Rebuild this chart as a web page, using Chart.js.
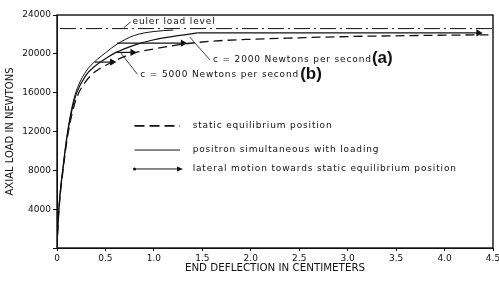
<!DOCTYPE html>
<html>
<head>
<meta charset="utf-8">
<script src="https://cdn.jsdelivr.net/npm/chart.js@4.4.1/dist/chart.umd.min.js"></script>
<style>
  body { margin: 0; background: #fff; }
  canvas { display: block; }
</style>
</head>
<body>
<canvas id="chart" width="499" height="282"></canvas>
<script>
// tick labels
const xTickLabels = ['0', '0.5', '1.0', '1.5', '2.0', '2.5', '3.0', '3.5', '4.0', '4.5'];
const yTickLabels = ['', '4000', '8000', '12000', '16000', '20000', '24000'];

// position simultaneous with loading, outer curve
const loadA_x = [0, 0.01, 0.03, 0.06, 0.1, 0.15, 0.2, 0.3, 0.39, 0.5, 0.62, 0.8, 1.0, 1.2];
const loadA_y = [0, 2500, 5500, 8200, 11400, 14300, 16200, 18200, 19200, 20100, 21000, 21900, 22300, 22450];

// position simultaneous with loading, inner curve
const loadB_x = [0, 0.01, 0.03, 0.06, 0.1, 0.15, 0.2, 0.3, 0.4, 0.5, 0.6, 0.8, 1.0, 1.2, 1.45];
const loadB_y = [0, 2400, 5300, 8000, 11200, 14000, 15900, 17800, 18800, 19500, 20100, 20900, 21450, 21800, 22150];

// static equilibrium position
const static_x = [0, 0.01, 0.03, 0.06, 0.1, 0.15, 0.2, 0.3, 0.4, 0.5, 0.6, 0.8, 1.0, 1.3, 1.6, 2.0, 2.5, 3.0, 3.5, 4.0, 4.5];
const static_y = [0, 2300, 5100, 7800, 10900, 13600, 15400, 17200, 18200, 18800, 19300, 20100, 20500, 21000, 21300, 21500, 21650, 21780, 21860, 21920, 21960];

// lateral motion towards static equilibrium
const lateralLoad = [19150, 20150, 21100, 22150];
const lateralFrom = [0.39, 0.6, 0.62, 1.45];
const lateralTo = [0.57, 0.78, 1.3, 4.35];

const eulerLoad = 22600;

const pts = (xs, ys) => xs.map((x, i) => ({ x, y: ys[i] }));

const datasets = [
  {
    data: [{ x: 0.03, y: eulerLoad }, { x: 4.5, y: eulerLoad }],
    borderColor: '#111', borderWidth: 1, borderDash: [16, 4, 2, 4], pointRadius: 0,
  },
  {
    data: pts(static_x, static_y),
    borderColor: '#111', borderWidth: 1.3, borderDash: [9, 5], pointRadius: 0,
    cubicInterpolationMode: 'monotone',
  },
  {
    data: pts(loadA_x, loadA_y),
    borderColor: '#111', borderWidth: 1, pointRadius: 0, cubicInterpolationMode: 'monotone',
  },
  {
    data: pts(loadB_x, loadB_y),
    borderColor: '#111', borderWidth: 1.2, pointRadius: 0, cubicInterpolationMode: 'monotone',
  },
  ...lateralLoad.map((y, i) => ({
    data: [{ x: lateralFrom[i], y }, { x: lateralTo[i], y }],
    borderColor: '#111', backgroundColor: '#111', borderWidth: 1.2,
    pointStyle: 'triangle', pointRotation: 90,
    pointRadius: c => c.dataIndex === 1 ? 3 : 0,
  })),
];

// annotation text and legend, placed in data units
const FONT = '9px "DejaVu Sans"';
const notes = [
  { text: 'euler load level', x: 0.78, y: 23280 },
  { text: 'c = 2000 Newtons per second', x: 1.61, y: 19360 },
  { text: 'c = 5000 Newtons per second', x: 0.86, y: 17900 },
  { text: 'static equilibrium position', x: 1.40, y: 12570 },
  { text: 'positron simultaneous with loading', x: 1.40, y: 10090 },
  { text: 'lateral motion towards static equilibrium position', x: 1.40, y: 8140 },
];
const bigNotes = [
  { text: '(a)', x: 3.25, y: 19570 },
  { text: '(b)', x: 2.51, y: 17900 },
];
const leaders = [
  [[0.76, 23280], [0.69, 22700]],
  [[1.58, 19360], [1.37, 21730]],
  [[0.83, 17900], [0.65, 20200]],
];

const decor = {
  id: 'decor',
  afterDraw(chart) {
    const { ctx, chartArea: a, scales: { x, y } } = chart;
    const px = v => x.getPixelForValue(v);
    const py = v => y.getPixelForValue(v);
    ctx.save();
    ctx.strokeStyle = '#111';
    ctx.fillStyle = '#111';
    ctx.lineWidth = 1.4;
    ctx.strokeRect(a.left, a.top, a.right - a.left, a.bottom - a.top);

    ctx.lineWidth = 0.8;
    leaders.forEach(([p, q]) => {
      ctx.beginPath();
      ctx.moveTo(px(p[0]), py(p[1]));
      ctx.lineTo(px(q[0]), py(q[1]));
      ctx.stroke();
    });

    ctx.font = FONT;
    ctx.textBaseline = 'middle';
    ctx.letterSpacing = '0.85px';
    notes.forEach(n => ctx.fillText(n.text, px(n.x), py(n.y)));
    ctx.letterSpacing = '0px';
    ctx.font = 'bold 17px "Liberation Sans"';
    bigNotes.forEach(n => ctx.fillText(n.text, px(n.x), py(n.y)));

    // legend samples
    const x0 = px(0.80), x1 = px(1.27);
    ctx.lineWidth = 1.8;
    ctx.setLineDash([10, 5]);
    ctx.beginPath(); ctx.moveTo(x0, py(12570)); ctx.lineTo(x1, py(12570)); ctx.stroke();
    ctx.setLineDash([]);
    ctx.lineWidth = 1;
    ctx.beginPath(); ctx.moveTo(x0, py(10090)); ctx.lineTo(x1, py(10090)); ctx.stroke();
    const ly = py(8140);
    ctx.beginPath(); ctx.moveTo(x0, ly); ctx.lineTo(x1, ly); ctx.stroke();
    ctx.beginPath(); ctx.arc(x0, ly, 1.5, 0, Math.PI * 2); ctx.fill();
    ctx.beginPath(); ctx.moveTo(x1 + 3, ly); ctx.lineTo(x1 - 3, ly - 2.5); ctx.lineTo(x1 - 3, ly + 2.5); ctx.fill();
    ctx.restore();
  },
};

new Chart(document.getElementById('chart'), {
  type: 'line',
  data: { datasets },
  plugins: [decor],
  options: {
    responsive: false,
    animation: false,
    devicePixelRatio: 1,
    layout: { padding: { top: 15, right: 6, left: 0, bottom: 0 } },
    plugins: { legend: { display: false }, tooltip: { enabled: false } },
    scales: {
      x: {
        type: 'linear', min: 0, max: 4.5,
        afterFit: s => { s.height = 34; s.paddingRight = 0; s.paddingLeft = 0; },
        ticks: {
          stepSize: 0.5, padding: 2, color: '#111', maxRotation: 0,
          font: { family: 'DejaVu Sans', size: 9 },
          callback: (v, i) => xTickLabels[i],
        },
        grid: { drawOnChartArea: false, tickLength: 3, color: '#111' },
        border: { color: '#111', width: 1 },
        title: {
          display: true, text: 'END DEFLECTION IN CENTIMETERS', color: '#111',
          font: { family: 'DejaVu Sans', size: 10.3 }, padding: { top: 0, bottom: 7 },
        },
      },
      y: {
        type: 'linear', min: 0, max: 24000,
        afterFit: s => { s.width = 57; },
        ticks: {
          stepSize: 4000, padding: 2, color: '#111',
          font: { family: 'DejaVu Sans', size: 9 },
          callback: (v, i) => yTickLabels[i],
        },
        grid: { drawOnChartArea: false, tickLength: 4, color: '#111' },
        border: { color: '#111', width: 1 },
        title: {
          display: true, text: 'AXIAL LOAD IN NEWTONS', color: '#111',
          font: { family: 'DejaVu Sans', size: 10 }, padding: { top: 4, bottom: 0 },
        },
      },
    },
  },
});
</script>
</body>
</html>
